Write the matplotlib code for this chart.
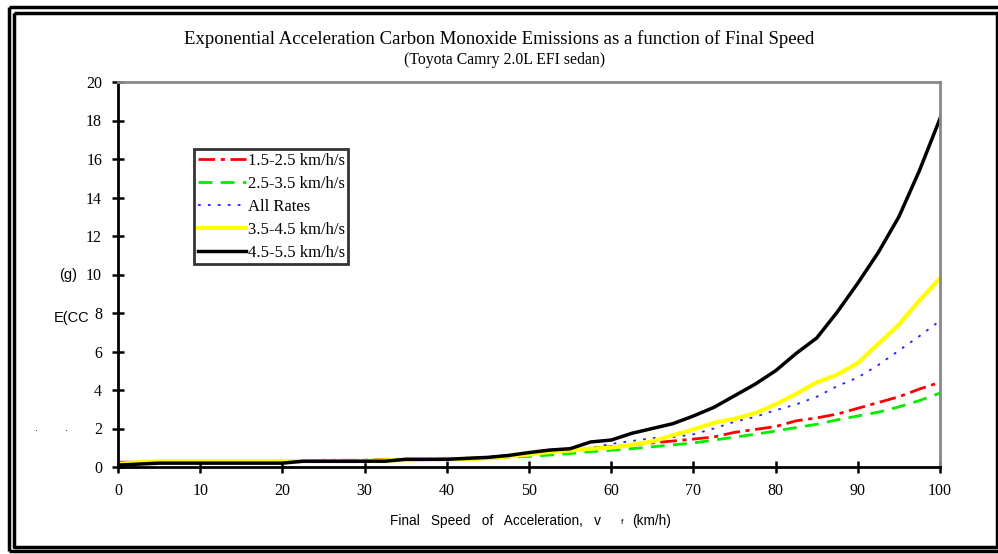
import matplotlib
matplotlib.use("Agg")
import matplotlib.pyplot as plt
from matplotlib.lines import Line2D

# final speed (km/h)
speed = [0, 2.5, 5, 7.5, 10, 12.5, 15, 17.5, 20, 22.5, 25, 27.5, 30, 32.5, 35, 37.5,
         40, 42.5, 45, 47.5, 50, 52.5, 55, 57.5, 60, 62.5, 65, 67.5, 70, 72.5, 75,
         77.5, 80, 82.5, 85, 87.5, 90, 92.5, 95, 97.5, 100]

# E(CO) in grams for each acceleration rate
co_15_25 = [0.25, 0.25, 0.25, 0.25, 0.25, 0.25, 0.25, 0.25, 0.25, 0.3, 0.35, 0.35, 0.35, 0.4, 0.4, 0.4,
            0.45, 0.45, 0.5, 0.6, 0.7, 0.78, 0.85, 0.98, 1.05, 1.15, 1.25, 1.35, 1.45, 1.56, 1.8,
            1.95, 2.1, 2.4, 2.55, 2.75, 3.05, 3.35, 3.65, 4.05, 4.4]
co_25_35 = [0.2, 0.22, 0.25, 0.25, 0.25, 0.25, 0.25, 0.25, 0.25, 0.28, 0.3, 0.32, 0.35, 0.35, 0.35, 0.38,
            0.4, 0.42, 0.45, 0.5, 0.55, 0.62, 0.7, 0.8, 0.87, 0.95, 1.05, 1.15, 1.25, 1.4, 1.55,
            1.7, 1.87, 2.05, 2.22, 2.45, 2.65, 2.85, 3.12, 3.45, 3.84]
co_all = [0.2, 0.22, 0.25, 0.25, 0.25, 0.25, 0.25, 0.25, 0.25, 0.3, 0.32, 0.35, 0.35, 0.38, 0.4, 0.4,
          0.45, 0.48, 0.5, 0.6, 0.7, 0.8, 0.9, 1.0, 1.2, 1.35, 1.5, 1.55, 1.7, 2.0, 2.35,
          2.6, 2.95, 3.25, 3.65, 4.2, 4.65, 5.3, 6.05, 6.8, 7.6]
co_35_45 = [0.15, 0.25, 0.3, 0.3, 0.3, 0.3, 0.3, 0.3, 0.3, 0.3, 0.3, 0.3, 0.3, 0.35, 0.35, 0.38,
            0.4, 0.42, 0.45, 0.55, 0.65, 0.78, 0.85, 0.95, 1.0, 1.15, 1.33, 1.65, 1.95, 2.3, 2.5,
            2.8, 3.25, 3.8, 4.4, 4.8, 5.4, 6.4, 7.4, 8.65, 9.8]
co_45_55 = [0.1, 0.15, 0.2, 0.2, 0.2, 0.2, 0.2, 0.2, 0.2, 0.3, 0.3, 0.3, 0.3, 0.3, 0.4, 0.4,
            0.4, 0.45, 0.5, 0.6, 0.75, 0.88, 0.95, 1.3, 1.4, 1.75, 2.0, 2.25, 2.65, 3.1, 3.7,
            4.3, 5.0, 5.9, 6.7, 8.05, 9.55, 11.15, 13.0, 15.4, 18.1]

labels = ["1.5-2.5 km/h/s", "2.5-3.5 km/h/s", "All Rates", "3.5-4.5 km/h/s", "4.5-5.5 km/h/s"]

W, H = 998, 554
serif = ["Liberation Serif", "DejaVu Serif"]
sans = ["Liberation Sans", "DejaVu Sans"]

fig = plt.figure(figsize=(W / 100, H / 100), dpi=100)
ax = fig.add_axes([118 / W, 1 - 467 / H, (940 - 118) / W, (467 - 82) / H])

ax.plot(speed, co_15_25, color="#ff0000", lw=2, ls=(0, (6, 2, 1.5, 2)), label=labels[0])
ax.plot(speed, co_25_35, color="#00ee00", lw=2, ls=(0, (5, 3)), label=labels[1])
ax.plot(speed, co_all, color="#2020ff", lw=1.3, ls=(0, (1.5, 4)), label=labels[2])
ax.plot(speed, co_35_45, color="#ffff00", lw=3, label=labels[3])
ax.plot(speed, co_45_55, color="black", lw=2.5, label=labels[4])

ax.set_xlim(0, 100)
ax.set_ylim(0, 20)
ax.set_xticks(range(0, 101, 10))
ax.set_yticks(range(0, 21, 2))
ax.tick_params(direction="inout", length=9, width=1.8, pad=7)
for lab in ax.get_xticklabels() + ax.get_yticklabels():
    lab.set_family(serif)
    lab.set_fontsize(11.5)

for s in ["left", "bottom"]:
    ax.spines[s].set_linewidth(2)
    ax.spines[s].set_color("black")
for s in ["top", "right"]:
    ax.spines[s].set_linewidth(2)
    ax.spines[s].set_color("#888888")

leg = ax.legend(loc="upper left", bbox_to_anchor=(0.093, 0.825), frameon=True, fancybox=False,
                prop={"family": serif, "size": 12}, handlelength=2.9, handletextpad=0.1,
                borderpad=0.2, labelspacing=0.42, borderaxespad=0)
leg.get_frame().set_edgecolor("black")
leg.get_frame().set_linewidth(2)

# titles
fig.text(499 / W, 1 - 39 / H, "Exponential Acceleration Carbon Monoxide Emissions as a function of Final Speed",
         ha="center", va="center", family=serif, fontsize=13.5)
fig.text(505 / W, 1 - 60 / H, "(Toyota Camry 2.0L EFI sedan)",
         ha="center", va="center", family=serif, fontsize=11.3)

# x axis label
fig.text(390 / W, 1 - 521 / H, "Final   Speed   of   Acceleration,   v", ha="left", va="center",
         family=sans, fontsize=9.8)
fig.text(621 / W, 1 - 522 / H, "f", ha="left", va="center", family=sans, fontsize=6)
fig.text(632 / W, 1 - 521 / H, "(km/h)", ha="left", va="center", family=sans, fontsize=9.8)

# y axis label (broken up as in the original)
fig.text(68 / W, 1 - 275 / H, "(g)", ha="center", va="center", family=sans, fontsize=10.5)
fig.text(54 / W, 1 - 318 / H, "E(CC", ha="left", va="center", family=sans, fontsize=10.5)
fig.text(37 / W, 1 - 428 / H, ".", ha="center", va="center", family=sans, fontsize=8)
fig.text(67 / W, 1 - 428 / H, ".", ha="center", va="center", family=sans, fontsize=8)


def frame_line(xs, ys, lw):
    fig.add_artist(Line2D([x / W for x in xs], [1 - y / H for y in ys], color="black",
                          lw=lw, transform=fig.transFigure, solid_capstyle="butt"))


# double border round the whole chart
frame_line([9, 998], [6.5, 6.5], 2.5)
frame_line([9, 9], [6.5, 551], 2.5)
frame_line([9, 998], [551, 551], 2.5)
frame_line([13.5, 996.5, 996.5, 13.5, 13.5], [12.5, 12.5, 546.5, 546.5, 12.5], 2.5)

fig.savefig("out.png", dpi=100)
